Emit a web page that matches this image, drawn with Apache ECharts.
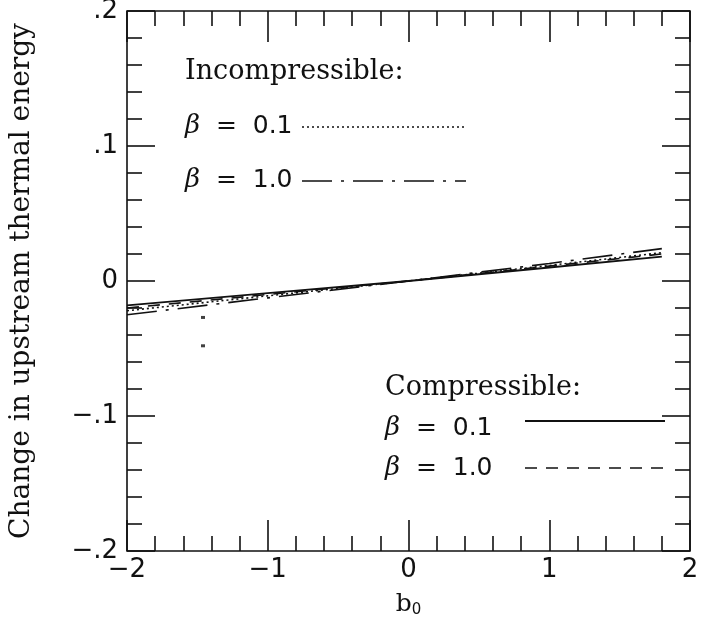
<!DOCTYPE html>
<html>
<head>
<meta charset="utf-8">
<script src="https://cdn.jsdelivr.net/npm/echarts@6/dist/echarts.min.js"></script>
<style>
  html, body { margin: 0; padding: 0; background: #fff; }
  #chart { width: 702px; height: 621px; }
</style>
</head>
<body>
<div id="chart"></div>
<script>
// b0 sample points for every curve
const bValues = [-2, -1, 0, 1, 1.8];

// change in upstream thermal energy
const compressibleBeta01 = [-0.018, -0.009, 0.0, 0.010, 0.018];
const compressibleBeta10 = [-0.020, -0.010, 0.0, 0.011, 0.020];
const incompressibleBeta01 = [-0.022, -0.011, 0.0, 0.0115, 0.021];
const incompressibleBeta10 = [-0.025, -0.0125, 0.0, 0.013, 0.024];

// two stray ink marks below the curves near b0 = -1.46
const strayX = [-1.46, -1.46];
const strayY = [-0.027, -0.048];

const xTicks = ['−2', '−1', '0', '1', '2'];
const yTicks = { '-0.2': '−.2', '-0.1': '−.1', '0': '0', '0.1': '.1', '0.2': '.2' };

const pairs = (xs, ys) => xs.map((x, i) => [x, ys[i]]);

const serif = '"DejaVu Serif", "Liberation Serif", serif';
const sans = '"DejaVu Sans", sans-serif';
const ink = '#111';

function lineSeries(name, ys, dash, width) {
  return {
    name, type: 'line', data: pairs(bValues, ys),
    showSymbol: false, symbol: 'none', silent: true,
    lineStyle: { color: ink, width: width || 1.6, type: dash }
  };
}

// inward ticks on all four sides of the frame
function frameAxis(kind, position, withLabels) {
  const isX = kind === 'x';
  const axis = {
    type: 'value',
    min: isX ? -2 : -0.2, max: isX ? 2 : 0.2, interval: isX ? 1 : 0.1,
    position,
    axisLine: { show: false, onZero: false },
    splitLine: { show: false },
    axisTick: { inside: true, length: isX ? 31 : 28, lineStyle: { color: ink, width: 1.6 } },
    minorTick: { show: true, splitNumber: 5, length: 15, lineStyle: { color: ink, width: 1.6 } },
    axisLabel: { show: false }
  };
  if (withLabels) {
    axis.axisLabel = {
      show: true, margin: isX ? 6 : 9, fontFamily: sans, fontSize: 26, color: ink,
      formatter: isX ? v => xTicks[Math.round(v) + 2] : v => yTicks[String(Math.round(v * 10) / 10)]
    };
  }
  return axis;
}

const chart = echarts.init(document.getElementById('chart'));

const xBottom = frameAxis('x', 'bottom', true);
xBottom.name = 'b{s|0}';
xBottom.nameLocation = 'middle';
xBottom.nameGap = 40;
xBottom.nameTextStyle = {
  fontFamily: serif, fontSize: 25, color: ink,
  rich: { s: { fontFamily: sans, fontSize: 15, color: ink, verticalAlign: 'bottom', padding: [12, 0, 0, 0] } }
};

const yLeft = frameAxis('y', 'left', true);
yLeft.name = 'Change in upstream thermal energy';
yLeft.nameLocation = 'middle';
yLeft.nameGap = 91;
yLeft.nameTextStyle = { fontFamily: serif, fontSize: 28, color: ink };

const beta = { b: { fontFamily: serif, fontStyle: 'italic', fontSize: 26, fill: ink } };

chart.setOption({
  animation: false,
  backgroundColor: '#fff',
  grid: {
    left: 127, right: 12, top: 11, bottom: 70,
    outerBoundsMode: 'none', containLabel: false,
    show: true, borderColor: ink, borderWidth: 1.6, backgroundColor: 'transparent'
  },
  xAxis: [xBottom, frameAxis('x', 'top', false)],
  yAxis: [yLeft, frameAxis('y', 'right', false)],
  series: [
    lineSeries('Incompressible β = 0.1', incompressibleBeta01, [2, 3], 1.6),
    lineSeries('Incompressible β = 1.0', incompressibleBeta10, [30, 9, 3, 9], 1.6),
    lineSeries('Compressible β = 0.1', compressibleBeta01, 'solid', 1.8),
    lineSeries('Compressible β = 1.0', compressibleBeta10, [12, 9], 1.6),
    {
      name: 'marks', type: 'scatter', silent: true,
      data: pairs(strayX, strayY),
      symbol: 'rect', symbolSize: [4, 3],
      itemStyle: { color: ink }
    }
  ],
  graphic: [
    // incompressible key
    { type: 'text', left: 185, top: 58, style: { text: 'Incompressible:', font: '27px ' + serif, fill: ink } },
    { type: 'text', left: 185, top: 113, style: { text: '{b|β}  =  0.1', font: '25px ' + sans, fill: ink, rich: beta } },
    { type: 'line', shape: { x1: 302, y1: 127, x2: 466, y2: 127 }, style: { stroke: ink, lineWidth: 1.6, lineDash: [2, 3] } },
    { type: 'text', left: 185, top: 167, style: { text: '{b|β}  =  1.0', font: '25px ' + sans, fill: ink, rich: beta } },
    { type: 'line', shape: { x1: 302, y1: 181, x2: 466, y2: 181 }, style: { stroke: ink, lineWidth: 1.6, lineDash: [30, 9, 3, 9] } },
    // compressible key
    { type: 'text', left: 385, top: 374, style: { text: 'Compressible:', font: '27px ' + serif, fill: ink } },
    { type: 'text', left: 385, top: 415, style: { text: '{b|β}  =  0.1', font: '25px ' + sans, fill: ink, rich: beta } },
    { type: 'line', shape: { x1: 525, y1: 421, x2: 665, y2: 421 }, style: { stroke: ink, lineWidth: 1.8 } },
    { type: 'text', left: 385, top: 455, style: { text: '{b|β}  =  1.0', font: '25px ' + sans, fill: ink, rich: beta } },
    { type: 'line', shape: { x1: 525, y1: 468, x2: 665, y2: 468 }, style: { stroke: ink, lineWidth: 1.6, lineDash: [12, 9] } }
  ]
});
</script>
</body>
</html>
